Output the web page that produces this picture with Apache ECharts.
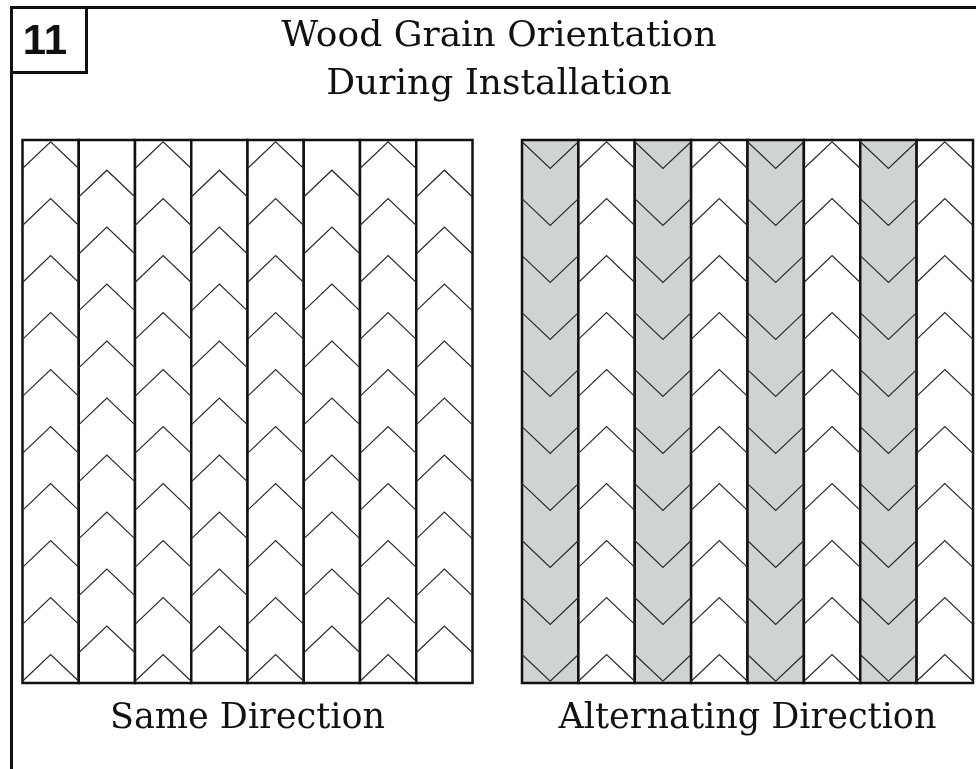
<!DOCTYPE html>
<html>
<head>
<meta charset="utf-8">
<script src="https://cdn.jsdelivr.net/npm/echarts@6/dist/echarts.min.js"></script>
<style>
  html, body { margin: 0; padding: 0; background: #fff; }
  #chart { width: 976px; height: 769px; }
</style>
</head>
<body>
<div id="chart"></div>
<script>
// figure text
const figureNumber = '11'
const titleLines = ['Wood Grain Orientation', 'During Installation']
const panelNames = ['Same Direction', 'Alternating Direction']

// boards: 8 per panel, rows counted in chevron periods from the top
const boardIndex = [0, 1, 2, 3, 4, 5, 6, 7]
const rowSpan = 9.53 // panel height in chevron periods
const chevronHeight = 0.47

// left panel: every board points up, neighbours shifted half a period
const sameFirstRow = [0.03, 0.53, 0.03, 0.53, 0.03, 0.53, 0.03, 0.53]
const sameRowCount = [10, 9, 10, 9, 10, 9, 10, 9]
const sameDirection = ['up', 'up', 'up', 'up', 'up', 'up', 'up', 'up']
const sameShaded = [0, 0, 0, 0, 0, 0, 0, 0]

// right panel: shaded boards turned round
const altFirstRow = [0.03, 0.03, 0.03, 0.03, 0.03, 0.03, 0.03, 0.03]
const altRowCount = [10, 10, 10, 10, 10, 10, 10, 10]
const altDirection = ['down', 'up', 'down', 'up', 'down', 'up', 'down', 'up']
const altShaded = [1, 0, 1, 0, 1, 0, 1, 0]

const SHADE = '#cfd3d4'
const INK = '#111'
const SERIF = '"DejaVu Serif", "Liberation Serif", serif'

function chevronData(firstRow, rowCount, direction) {
  const out = []
  boardIndex.forEach(i => {
    for (let k = 0; k < rowCount[i]; k++) {
      out.push([i, firstRow[i] + k, direction[i] === 'up' ? 1 : -1])
    }
  })
  return out
}

function boardData(shaded) {
  return boardIndex.map(i => [i, shaded[i]])
}

function renderBoard(params, api) {
  const col = api.value(0)
  const p0 = api.coord([col, 0])
  const p1 = api.coord([col + 1, rowSpan])
  return {
    type: 'rect',
    shape: { x: p0[0], y: p0[1], width: p1[0] - p0[0], height: p1[1] - p0[1] },
    style: { fill: api.value(1) ? SHADE : '#fff', stroke: INK, lineWidth: 2.5 }
  }
}

function renderChevron(params, api) {
  const col = api.value(0)
  const row = api.value(1)
  const up = api.value(2) > 0
  const a = api.coord([col, row])
  const b = api.coord([col + 1, row + chevronHeight])
  const mid = (a[0] + b[0]) / 2
  const pts = up
    ? [[a[0], b[1]], [mid, a[1]], [b[0], b[1]]]
    : [[a[0], a[1]], [mid, b[1]], [b[0], a[1]]]
  return {
    type: 'polyline',
    shape: { points: pts },
    style: { stroke: '#2a2a2a', lineWidth: 1.2, fill: null }
  }
}

const chart = echarts.init(document.getElementById('chart'), null, { renderer: 'canvas' })

const grids = [
  { left: 22.5, top: 140, width: 450, height: 543 },
  { left: 522, top: 140, width: 451, height: 543 }
]

chart.setOption({
  animation: false,
  backgroundColor: '#fff',
  grid: grids,
  xAxis: grids.map((g, i) => ({
    gridIndex: i, type: 'value', min: 0, max: 8,
    name: panelNames[i], nameLocation: 'middle', nameGap: 18,
    nameTextStyle: { fontFamily: SERIF, fontSize: 35, color: INK, verticalAlign: 'top' },
    axisLine: { show: false }, axisTick: { show: false },
    axisLabel: { show: false }, splitLine: { show: false }
  })),
  yAxis: grids.map((g, i) => ({
    gridIndex: i, type: 'value', min: 0, max: rowSpan, inverse: true, show: false
  })),
  series: [
    { type: 'custom', xAxisIndex: 0, yAxisIndex: 0, z: 1, renderItem: renderBoard, data: boardData(sameShaded) },
    { type: 'custom', xAxisIndex: 0, yAxisIndex: 0, z: 2, renderItem: renderChevron, data: chevronData(sameFirstRow, sameRowCount, sameDirection) },
    { type: 'custom', xAxisIndex: 1, yAxisIndex: 1, z: 1, renderItem: renderBoard, data: boardData(altShaded) },
    { type: 'custom', xAxisIndex: 1, yAxisIndex: 1, z: 2, renderItem: renderChevron, data: chevronData(altFirstRow, altRowCount, altDirection) }
  ],
  graphic: [
    // page frame and figure number box
    { type: 'polyline', shape: { points: [[11.5, 769], [11.5, 7.5], [976, 7.5]] }, style: { stroke: INK, lineWidth: 3, fill: null } },
    { type: 'rect', shape: { x: 11.5, y: 7.5, width: 75, height: 65 }, style: { stroke: INK, lineWidth: 3, fill: '#fff' } },
    { type: 'text', x: 45, y: 42, style: { text: figureNumber, font: 'bold 42px "Liberation Sans", Arial, sans-serif', fill: INK, textAlign: 'center', textVerticalAlign: 'middle' } },
    { type: 'text', x: 499, y: 37, style: { text: titleLines[0], font: '36px ' + SERIF, fill: INK, textAlign: 'center', textVerticalAlign: 'middle' } },
    { type: 'text', x: 499, y: 85, style: { text: titleLines[1], font: '36px ' + SERIF, fill: INK, textAlign: 'center', textVerticalAlign: 'middle' } }
  ]
})
</script>
</body>
</html>
